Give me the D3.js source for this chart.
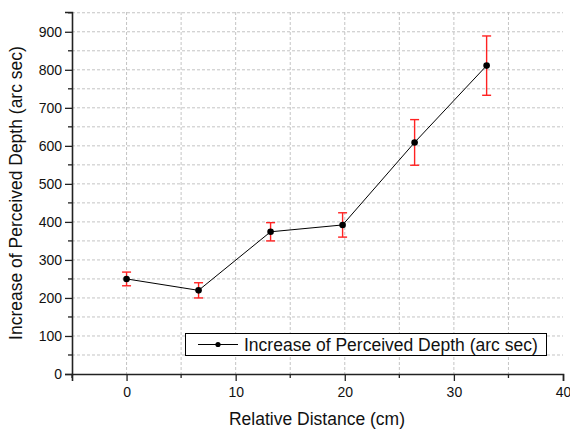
<!DOCTYPE html>
<html>
<head>
<meta charset="utf-8">
<script src="https://cdn.jsdelivr.net/npm/d3@7/dist/d3.min.js"></script>
<style>
  body { margin: 0; background: #fff; }
  svg { font-family: Arial, "Liberation Sans", sans-serif; }
</style>
</head>
<body>
<svg id="chart" width="570" height="430"></svg>
<script>
// data
var distance = [0, 6.6, 13.2, 19.8, 26.4, 33];
var depth = [250, 220, 374, 392, 609, 811];
var errors = [18, 20, 24, 32, 60, 78];
var xTicks = [0, 10, 20, 30, 40];
var yTicks = [0, 100, 200, 300, 400, 500, 600, 700, 800, 900];
var seriesName = "Increase of Perceived Depth (arc sec)";

var svg = d3.select("#chart");
var plotL = 72, plotR = 563, plotT = 12, plotB = 374;

var xs = d3.scaleLinear().domain([-5, 40]).range([plotL, plotR]);
var ys = d3.scaleLinear().domain([0, 952]).range([plotB, plotT]);

// grid, dashed, every minor step
var grid = svg.append("g").attr("stroke", "#c4c4c4").attr("stroke-dasharray", "3,2").attr("stroke-width", 1);
d3.range(0, 40, 5).forEach(function (v) {
  grid.append("line").attr("x1", xs(v)).attr("x2", xs(v)).attr("y1", plotT).attr("y2", plotB);
});
d3.range(50, 951, 50).forEach(function (v) {
  grid.append("line").attr("x1", plotL).attr("x2", plotR).attr("y1", ys(v)).attr("y2", ys(v));
});

// axes
var xAxis = d3.axisBottom(xs).tickValues(xTicks).tickSize(7).tickPadding(6);
var yAxis = d3.axisLeft(ys).tickValues(yTicks).tickSize(7).tickPadding(3);

var gx = svg.append("g").attr("transform", "translate(0," + plotB + ")").call(xAxis);
var gy = svg.append("g").attr("transform", "translate(" + plotL + ",0)").call(yAxis);

// minor ticks
gx.selectAll(".minor").data(d3.range(-5, 40, 10)).enter().append("line")
  .attr("x1", function (d) { return xs(d); }).attr("x2", function (d) { return xs(d); })
  .attr("y1", 0).attr("y2", 4).attr("stroke", "#222").attr("stroke-width", 1.3);
gy.selectAll(".minor").data(d3.range(50, 951, 100)).enter().append("line")
  .attr("y1", function (d) { return ys(d); }).attr("y2", function (d) { return ys(d); })
  .attr("x1", 0).attr("x2", -4).attr("stroke", "#222").attr("stroke-width", 1.3);

[gx, gy].forEach(function (g) {
  g.select(".domain").attr("stroke", "#222").attr("stroke-width", 1.6);
  g.selectAll(".tick line").attr("stroke", "#222").attr("stroke-width", 1.3);
  g.selectAll(".tick text").attr("fill", "#111").style("font-size", "14px").style("font-family", "Arial, 'Liberation Sans', sans-serif");
});

// axis titles
svg.append("text")
  .attr("x", 317).attr("y", 425)
  .attr("text-anchor", "middle").style("font-size", "17.5px").attr("fill", "#111")
  .text("Relative Distance (cm)");
svg.append("text")
  .attr("transform", "rotate(-90)")
  .attr("x", -(plotT + plotB) / 2).attr("y", 22)
  .attr("text-anchor", "middle").style("font-size", "17.5px").attr("fill", "#111")
  .text("Increase of Perceived Depth (arc sec)");

var pts = distance.map(function (d, i) { return { x: d, y: depth[i], e: errors[i] }; });

// line
svg.append("path").datum(pts)
  .attr("fill", "none").attr("stroke", "#000").attr("stroke-width", 1)
  .attr("d", d3.line().x(function (d) { return xs(d.x); }).y(function (d) { return ys(d.y); }));

// error bars
var eb = svg.append("g").attr("stroke", "#f22").attr("stroke-width", 1.4);
pts.forEach(function (d) {
  var cx = xs(d.x);
  eb.append("line").attr("x1", cx).attr("x2", cx).attr("y1", ys(d.y - d.e)).attr("y2", ys(d.y + d.e));
  eb.append("line").attr("x1", cx - 4.5).attr("x2", cx + 4.5).attr("y1", ys(d.y + d.e)).attr("y2", ys(d.y + d.e));
  eb.append("line").attr("x1", cx - 4.5).attr("x2", cx + 4.5).attr("y1", ys(d.y - d.e)).attr("y2", ys(d.y - d.e));
});

// markers
svg.selectAll(".pt").data(pts).enter().append("circle")
  .attr("cx", function (d) { return xs(d.x); })
  .attr("cy", function (d) { return ys(d.y); })
  .attr("r", 3.3).attr("fill", "#000");

// legend
var lg = svg.append("g");
lg.append("rect").attr("x", 185.5).attr("y", 333.5).attr("width", 361).attr("height", 22)
  .attr("fill", "#fff").attr("stroke", "#000").attr("stroke-width", 1);
lg.append("line").attr("x1", 198).attr("x2", 238).attr("y1", 344.5).attr("y2", 344.5).attr("stroke", "#000");
lg.append("circle").attr("cx", 218).attr("cy", 344.5).attr("r", 2.6).attr("fill", "#000");
lg.append("text").attr("x", 244).attr("y", 351).style("font-size", "17.5px").attr("fill", "#111").text(seriesName);
</script>
</body>
</html>
